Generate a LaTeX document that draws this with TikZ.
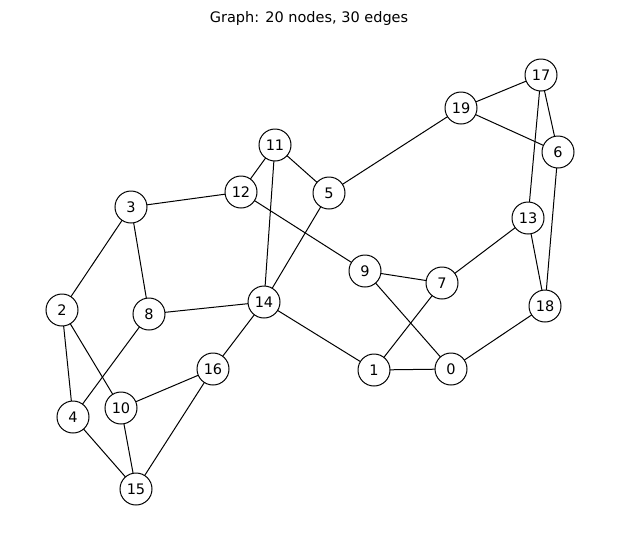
\documentclass[tikz,border=0pt]{standalone}
\usepackage{fontspec}
\setmainfont{DejaVu Sans}
\begin{document}
\begin{tikzpicture}[x=1pt,y=-1pt,
  vtx/.style={circle,draw,fill=white,line width=1pt,minimum size=32pt,inner sep=0pt,font=\fontsize{14.5}{16}\selectfont},
  edge/.style={line width=1pt}]
\useasboundingbox (0,0) rectangle (619,542);
\node[font=\fontsize{14.5}{16}\selectfont] (title) at (309,18) {Graph: 20 nodes, 30 edges};
\foreach \n/\x/\y in {17/541/75,19/461/108,6/558/152,11/275/145,12/241/192,5/329/193,3/131/207,13/528/218,9/365/271,7/442/283,18/545/306,2/62/310,8/149/314,14/264/302,16/213/369,1/374/370,0/451/369,10/121/408,4/73/417,15/136/489}
  \coordinate (c\n) at (\x,\y);
\foreach \a/\b in {17/19,17/6,17/13,19/6,19/5,6/18,13/18,13/7,11/12,11/5,11/14,12/3,12/9,5/14,3/2,3/8,9/7,9/0,7/1,18/0,1/0,14/1,14/8,14/16,2/4,2/10,8/4,16/10,16/15,10/15,4/15}
  \draw[edge] (c\a) -- (c\b);
\foreach \n in {17,19,6,11,12,5,3,13,9,7,18,2,8,14,16,1,0,10,4,15}
  \node[vtx] (n\n) at (c\n) {\n};
\end{tikzpicture}
\end{document}
